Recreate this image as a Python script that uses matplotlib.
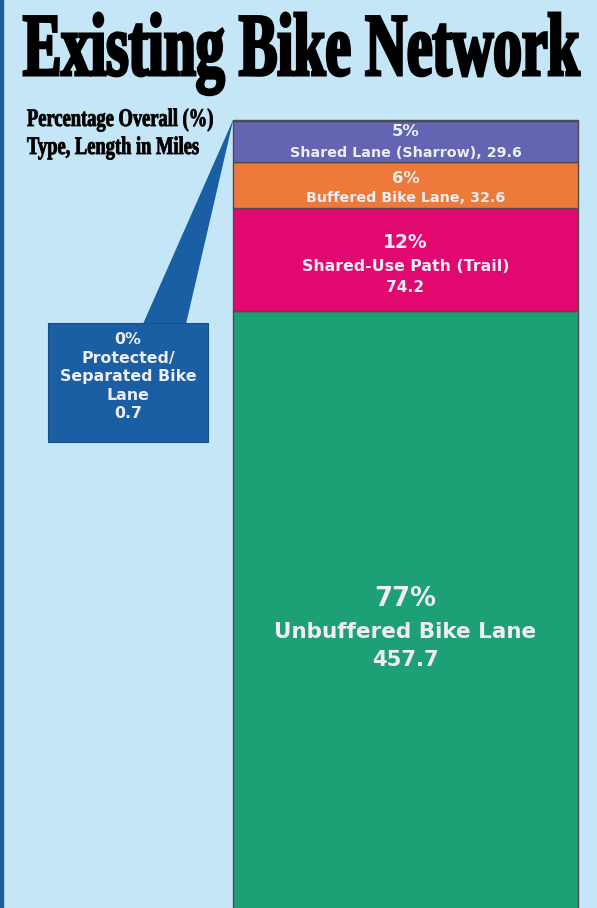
import matplotlib
matplotlib.use("Agg")
import matplotlib.pyplot as plt
from matplotlib.patches import Rectangle, Polygon
from matplotlib.patheffects import AbstractPathEffect
from matplotlib.transforms import Affine2D

# ---------------- data ----------------
types = ["Unbuffered Bike Lane", "Shared-Use Path (Trail)", "Buffered Bike Lane",
         "Shared Lane (Sharrow)", "Protected/Separated Bike Lane"]
miles = [457.7, 74.2, 32.6, 29.6, 0.7]
pct_labels = ["77%", "12%", "6%", "5%", "0%"]
name_lines = [["Unbuffered Bike Lane"], ["Shared-Use Path (Trail)"], ["Buffered Bike Lane"],
              ["Shared Lane (Sharrow)"], ["Protected/", "Separated Bike", "Lane"]]
value_inline = [False, False, True, True, False]
colors = ["#1da076", "#e20870", "#ed7a3a", "#6365b2", "#1a5ea4"]
title = "Existing Bike Network"
subtitle = ["Percentage Overall (%)", "Type, Length in Miles"]

# ---------------- style / layout ----------------
BG = "#c5e6f6"
TXT = "#eeeef4"
W, H = 597, 908
BAR_TOP = 120.0
PX_PER_MILE = 1.393
BAR_X, BAR_W = 405.5, 345.0
# per segment: font sizes per line and pixel offsets (downwards) from segment centre
seg_sizes = [[18.6, 15.5, 15.2], [13.5, 11.3, 11.1], [11.8, 10.3], [11.8, 10.3]]
seg_offsets = [[-30.8, 2.2, 30.2], [-16.3, 7.7, 28.7], [-6.9, 13.1], [-9.6, 11.4]]
BOX = (48, 323, 160, 119)
CALLOUT_Y = [340, 359, 377, 395, 414]


class StretchText(AbstractPathEffect):
    def __init__(self, sy, lw=0.0):
        super().__init__()
        self.sy = sy
        self.lw = lw

    def draw_path(self, renderer, gc, tpath, affine, rgbFace=None):
        aff = Affine2D().scale(1.0, self.sy) + affine
        gc0 = renderer.new_gc()
        gc0.copy_properties(gc)
        if self.lw > 0:
            gc0.set_linewidth(self.lw)
            gc0.set_foreground(rgbFace if rgbFace is not None else "black")
            gc0.set_joinstyle("miter")
        renderer.draw_path(gc0, tpath, aff, rgbFace)
        gc0.restore()


fig = plt.figure(figsize=(W / 100, H / 100), dpi=100, facecolor=BG)

ax = fig.add_axes([0, 0, 1, 1])
total = sum(miles)
ax.set_xlim(0, W)
ax.set_ylim(total - (H - BAR_TOP) / PX_PER_MILE, total + BAR_TOP / PX_PER_MILE)
ax.axis("off")

bottoms = []
acc = 0.0
for m in miles:
    bottoms.append(acc)
    acc += m
ax.bar([BAR_X] * len(miles), miles, bottom=bottoms, width=BAR_W, color=colors,
       edgecolor="#4d4d4d", linewidth=1.0, zorder=2)

# labels inside the bar
for i in range(4):
    lines = [pct_labels[i]] + list(name_lines[i])
    if value_inline[i]:
        lines[-1] = f"{lines[-1]}, {miles[i]}"
    else:
        lines.append(f"{miles[i]}")
    cy = bottoms[i] + miles[i] / 2
    for ln, fs, off in zip(lines, seg_sizes[i], seg_offsets[i]):
        ax.annotate(ln, xy=(BAR_X, cy), xytext=(0, -off), textcoords="offset pixels",
                    ha="center", va="center", fontsize=fs, fontweight="bold",
                    color=TXT, family="DejaVu Sans", zorder=5)

# overlay in pixel coordinates
ov = fig.add_axes([0, 0, 1, 1])
ov.set_xlim(0, W)
ov.set_ylim(H, 0)
ov.axis("off")

# left dark border strip
ov.add_patch(Rectangle((0, 0), 2.5, H, color="#1f5f99", zorder=1))

# callout wedge pointing at protected lane segment
left_edge = BAR_X - BAR_W / 2
tips = ax.transData.transform([(left_edge, total), (left_edge, total - miles[-1])])
tips = ov.transData.inverted().transform(tips)
bx, by, bw, bh = BOX
ov.add_patch(Polygon([(143, by + 1), (186, by + 1), tuple(tips[1]), tuple(tips[0])],
                     closed=True, fc=colors[-1], ec="none", zorder=3))
ov.add_patch(Rectangle((bx, by), bw, bh, fc=colors[-1], ec="#174f8a", lw=0.8, zorder=3))

c_lines = [pct_labels[4]] + list(name_lines[4]) + [f"{miles[4]}"]
for ln, y in zip(c_lines, CALLOUT_Y):
    ov.text(bx + bw / 2, y, ln, ha="center", va="center", fontsize=11.4,
            fontweight="bold", color=TXT, family="DejaVu Sans", zorder=5)

# title & subtitle (condensed heavy serif look)
renderer = fig.canvas.get_renderer()


def fitted_text(x, y, s, target_w, cap_px, lw, base_fs=40):
    t = ov.text(x, y, s, ha="left", va="baseline", family="Liberation Serif",
                fontweight="bold", fontsize=base_fs, color="black", zorder=6)
    w = t.get_window_extent(renderer).width
    fs = base_fs * (target_w - lw * 100 / 72) / w
    t.set_fontsize(fs)
    fs_px = fs * 100 / 72
    sy = (cap_px - lw * 100 / 72 * 0.5) / (0.655 * fs_px)
    t.set_path_effects([StretchText(sy, lw)])
    return t, fs


fitted_text(23, 75, title, 559, 60, 2.2)
_, sfs = fitted_text(27, 126, subtitle[0], 188, 17, 0.6, base_fs=14)
t2 = ov.text(27, 154, subtitle[1], ha="left", va="baseline", family="Liberation Serif",
             fontweight="bold", fontsize=sfs, color="black", zorder=6)
t2.set_path_effects([StretchText((17 - 0.6 * 100 / 72 * 0.5) / (0.655 * sfs * 100 / 72), 0.6)])

fig.savefig("out.png", dpi=100, facecolor=BG)
